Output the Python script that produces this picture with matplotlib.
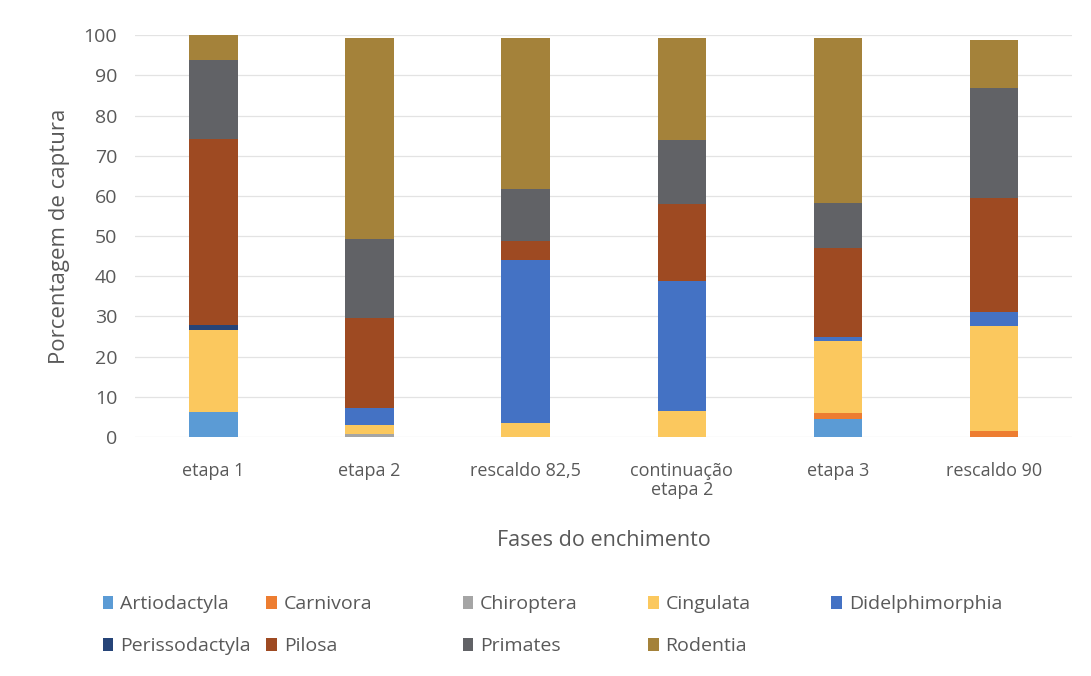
#!/usr/bin/env python3
"""Stacked capture percentages by order across the filling phases."""

import matplotlib.pyplot as plt
import numpy as np

phases = ["etapa 1", "etapa 2", "rescaldo 82,5", "continuação\netapa 2", "etapa 3", "rescaldo 90"]

orders = [
    "Artiodactyla", "Carnivora", "Chiroptera", "Cingulata", "Didelphimorphia",
    "Perissodactyla", "Pilosa", "Primates", "Rodentia",
]

artiodactyla = [6.2, 0.0, 0.0, 0.0, 4.5, 0.0]
carnivora = [0.0, 0.0, 0.0, 0.0, 1.5, 1.6]
chiroptera = [0.0, 0.8, 0.0, 0.0, 0.0, 0.0]
cingulata = [20.5, 2.3, 3.5, 6.5, 17.8, 26.1]
didelphimorphia = [0.0, 4.1, 40.5, 32.4, 1.2, 3.5]
perissodactyla = [1.1, 0.0, 0.0, 0.0, 0.0, 0.0]
pilosa = [46.3, 22.4, 4.7, 19.1, 22.0, 28.2]
primates = [19.7, 19.6, 13.1, 15.9, 11.2, 27.4]
rodentia = [6.2, 50.0, 37.6, 25.4, 41.1, 12.0]

colors = ["#5B9BD5", "#ED7D31", "#A5A5A5", "#FBC85E", "#4472C4",
          "#264478", "#9E4A22", "#616266", "#A4823A"]

series = [artiodactyla, carnivora, chiroptera, cingulata, didelphimorphia,
          perissodactyla, pilosa, primates, rodentia]

plt.rcParams["font.family"] = ["Open Sans", "DejaVu Sans"]
text_color = "#595959"

fig = plt.figure(figsize=(10.91, 6.76), dpi=100)
ax = fig.add_axes([0.124, 0.3536, 0.8586, 0.5944])

x = np.arange(len(phases))
bottom = np.zeros(len(phases))
bars = []
for name, vals, col in zip(orders, series, colors):
    vals = np.array(vals)
    b = ax.bar(x, vals, width=0.31, bottom=bottom, color=col, label=name, zorder=3)
    bars.append(b)
    bottom += vals

ax.set_xlim(-0.5, len(phases) - 0.5)
ax.set_ylim(0, 100)
ax.set_yticks(np.arange(0, 101, 10))
ax.set_xticks(x)
ax.set_xticklabels(phases, fontsize=13, color=text_color, linespacing=1.1)
ax.tick_params(axis="y", labelsize=14, colors=text_color, length=0, pad=13)
ax.tick_params(axis="x", length=0, pad=18)
ax.grid(axis="y", color="#E3E3E3", linewidth=0.9, zorder=0)
for s in ax.spines.values():
    s.set_visible(False)

ax.set_ylabel("Porcentagem de captura", fontsize=16, color=text_color, labelpad=10)
ax.set_xlabel("Fases do enchimento", fontsize=15.5, color=text_color, labelpad=22)

# legend entries sit on a fixed grid, two rows of five
leg_x = [0.094, 0.244, 0.424, 0.594, 0.762]
leg_y = [0.106, 0.044]
for i, (name, b) in enumerate(zip(orders, bars)):
    row, colno = divmod(i, 5)
    fig.legend(
        handles=[b], labels=[name], loc="center left",
        bbox_to_anchor=(leg_x[colno], leg_y[row]), frameon=False,
        fontsize=14, labelcolor=text_color, handlelength=0.55, handleheight=0.6,
        handletextpad=0.35, borderpad=0, borderaxespad=0,
    )

fig.savefig("out.png", dpi=100)
